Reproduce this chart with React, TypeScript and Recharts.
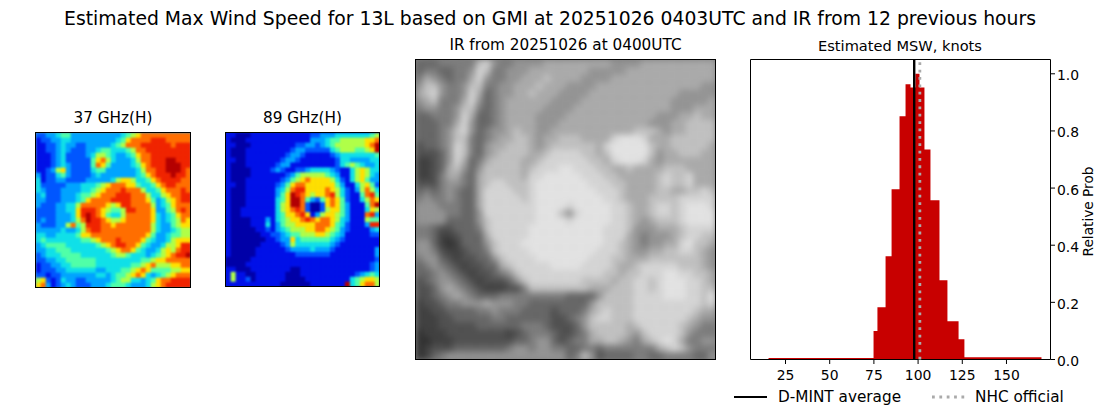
import React from 'react';
import {
  Area,
  ComposedChart,
  Legend,
  ReferenceArea,
  ReferenceLine,
  Scatter,
  ScatterChart,
  XAxis,
  YAxis,
} from 'recharts';

const FONT = '"DejaVu Sans", sans-serif';

// histogram of estimated MSW, bins have uneven widths
const binEdges = [15.4, 74.8, 77, 81.6, 85, 89.5, 92.9, 95.7, 98.5, 100.8, 103.6, 107, 112.1, 116.6, 122.9, 126.2, 169.8];
const binHeights = [0.005, 0.1, 0.183, 0.361, 0.596, 0.851, 0.963, 0.952, 1.0, 0.952, 0.735, 0.557, 0.277, 0.134, 0.071, 0.008];
const xTicks = [25, 50, 75, 100, 125, 150];
const yTicks = [0, 0.2, 0.4, 0.6, 0.8, 1.0];
const dmintAverage = 97.8;
const nhcOfficial = 101;

// brightness levels, one string per row (hex digit per cell)
const ghz37Rows = [
  '2233455333333333345678888888888',
  '1223344333333333457888899988888',
  '1122343322333334568889999998999',
  '1122343222334554445688999999999',
  '1112342222346654334578899999999',
  '1112342222257864333468899 9AA999',
  '1112343222258753333457899 9AAA99',
  '1123673222245533333346889 9AAA98',
  '3122453222234333333345789 99A998',
  '4122332222333334677644578 999988',
  '4222223334445678887754457899888',
  '4322233334456788898886445788898',
  '3422233345567888999888644678899',
  '3322233345788889999888753467899',
  '3222334468888876799888863457888',
  '2222334479998765569988873356898',
  '2222333479A98754468888874345788',
  '2322333468A99876678888874345687',
  '3222336856999887888888864335677',
  '3333343346899888888888864334566',
  '4433444457788888888888753345566',
  '4544444445567888988887543346777',
  '3455554444445678998875433466799',
  '3344555444444456788754334676899',
  '234445555444444566544434567899A',
  '2233445555554444444445567788888',
  '1223344555554444444556786667788',
  '1222334444443344455678755556677',
  '2212233333334434556787434567888',
  '6721243322333334566443457889999',
  '7831234322233345554333467899999',
].map((row) => row.replace(' ', ''));

const ghz89Rows = [
  '1100011111111111122333444444456',
  '1000111111111111133345566666778',
  '110001111111112233234566666678A',
  '100011111111123322222456665567A',
  '1000111111112332111112344444445',
  '1100111111123321111111244333344',
  '1000111111233111111111245654334',
  '1000011112321122344443211467644',
  '1000011111112356666654311467643',
  '1000111111123567877776421467533',
  '1100111111235788777777531146752',
  '1000111111346899777787642136864',
  '1000111111357A98767789642115895',
  '1000111111457AA8532578752114687',
  '1000111111467AA820027875311158A',
  '1001111111467898200267753111476',
  '1001111111457789713677653111893',
  '1000011131456778987887643111655',
  '1000011141356677778887542111399',
  '1000001121345666778876532111134',
  '1000000112234556667765431111122',
  '1000000011233745555554321111111',
  '1000000111123644444443211111111',
  '1000001111112333343332111111113',
  '1000001111111122222221111111113',
  '0000011111111111111111111111112',
  '0000111111111111111111111111123',
  '1100011111111001111111111111123',
  '1611001111110001111111111123454',
  '1611201111110000111111111456776',
  '111111111110000001111111A457886',
];

const irRows = [
  '3334444478544555566666666655556666666666',
  '3443344587445556666666655555666666666666',
  '4654344685445566676666555566666666666666',
  '5775445774455666766655556666666666666655',
  '6785445863455667666555566666666666655555',
  '5674446853456666665555666666666666555556',
  '4554457743456666655556666666666666555666',
  '3344458633456666555566666666666655566766',
  '3334468533456666555666666666666555667777',
  '3334578534556766556666666666677765667777',
  '3334577434566776566777666689998666777777',
  '2334587435667776567777776899999766777776',
  '2223587435677776678888776799999756677766',
  '1123586346777766788888877689998656666666',
  '1123675357777767888998887766766667776666',
  '1124664367777768899999888776666678778666',
  '2224554367887778999999988877666678778666',
  '3434543368888778999999998887666677667787',
  '4544543368888878999999999887666777788888',
  '5554443368888888999989999988766788789998',
  '5555443358888888999758999988766788789999',
  '5555333357888888999989999988765677789999',
  '4432233347888889999999999888755566678888',
  '4431123336888889999999999888654555678877',
  '5531013335788899999999999887654556689776',
  '5542112334788889999999998887655667788765',
  '4553212233578888999999988877666777777765',
  '3454321223367888889999888876678888877765',
  '3345432122345788888888888776778889988776',
  '2345543212223578888888777767788789998876',
  '2235654321112247777777766677788789998877',
  '2234565433344444444433335777788889998879',
  '1223445556555443333333357777788888888878',
  '1122333344544433332333467877788888888766',
  '1112233333443333332234578877788888887655',
  '1112222233333344432223577777678888876544',
  '0111222222221234443223467777657888875444',
  '0011122222222334553234466776546789864455',
  '0122233333334554554433443444444467875444',
  '0134555555555555555534752333344334444335',
];

const jetColors = ['#0000a8', '#0010e8', '#0056ff', '#00a4ff', '#10e0e8', '#50ffa8', '#b0ff48', '#ffe000', '#ff6e00', '#f02400', '#b40000'];
const grayColors = ['#303030', '#404040', '#505050', '#666', '#7c7c7c', '#949494', '#aaa', '#c0c0c0', '#d4d4d4', '#e2e2e2'];

const histData = binEdges.map((x, i) => ({ x, p: binHeights[Math.min(i, binHeights.length - 1)] }));

function toCells(rows: string[]) {
  const cells: { x: number; y: number; v: number }[] = [];
  rows.forEach((row, r) => {
    row.split('').forEach((ch, c) => {
      cells.push({ x: c + 0.5, y: r + 0.5, v: parseInt(ch, 16) });
    });
  });
  return cells;
}

function ImagePanel({ rows, colors, left, top, size, blur, title, titleSize, titleTop, back }: any) {
  const n = rows.length;
  const cell = size / n + 0.6;
  return (
    <>
      <div style={{ position: 'absolute', left: left - 100, width: size + 200, top: titleTop, textAlign: 'center', fontSize: titleSize, fontFamily: FONT, color: '#000' }}>
        {title}
      </div>
      <div style={{ position: 'absolute', left, top, width: size, height: size, overflow: 'hidden', background: back }}>
        <div style={{ filter: `blur(${blur}px)` }}>
          <ScatterChart width={size} height={size} margin={{ top: 0, right: 0, bottom: 0, left: 0 }}>
            <XAxis type="number" dataKey="x" domain={[0, n]} hide />
            <YAxis type="number" dataKey="y" domain={[0, n]} reversed hide />
            <Scatter
              data={toCells(rows)}
              isAnimationActive={false}
              shape={(p: any) => (
                <rect x={p.cx - cell / 2} y={p.cy - cell / 2} width={cell} height={cell} fill={colors[p.payload.v]} />
              )}
            />
          </ScatterChart>
        </div>
      </div>
      <div style={{ position: 'absolute', left: left - 0.5, top: top - 0.5, width: size + 1, height: size + 1, boxSizing: 'border-box', border: '1px solid #000' }} />
    </>
  );
}

function LegendRow() {
  return (
    <div style={{ position: 'relative', width: 366, height: 24, fontFamily: FONT, fontSize: 15.28, color: '#000' }}>
      <svg width={366} height={24} style={{ position: 'absolute', left: 0, top: 0 }}>
        <line x1={0} x2={33} y1={12} y2={12} stroke="#000" strokeWidth={2} />
        <line x1={198} x2={231} y1={12} y2={12} stroke="#aaa" strokeWidth={2.78} strokeDasharray="2.78 4.58" />
      </svg>
      <span style={{ position: 'absolute', left: 44, top: 3 }}>D-MINT average</span>
      <span style={{ position: 'absolute', left: 241, top: 3 }}>NHC official</span>
    </div>
  );
}

export default function App() {
  return (
    <div style={{ position: 'absolute', left: 0, top: 0, width: 1100, height: 409, background: '#fff', overflow: 'hidden' }}>
      <div style={{ position: 'absolute', left: 0, width: 1100, top: 8, textAlign: 'center', fontSize: 18.8, fontFamily: FONT, color: '#000' }}>
        Estimated Max Wind Speed for 13L based on GMI at 20251026 0403UTC and IR from 12 previous hours
      </div>

      <ImagePanel rows={ghz37Rows} colors={jetColors} left={35.5} top={132.5} size={155} blur={1} back="#50a0c0" title="37 GHz(H)" titleSize={15.28} titleTop={109} />
      <ImagePanel rows={ghz89Rows} colors={jetColors} left={225.5} top={132.5} size={154} blur={1} back="#0020d0" title="89 GHz(H)" titleSize={15.28} titleTop={109} />
      <ImagePanel rows={irRows} colors={grayColors} left={415.5} top={59.5} size={300} blur={3} back="#808080" title="IR from 20251026 at 0400UTC" titleSize={15.28} titleTop={36} />

      <div style={{ position: 'absolute', left: 750, width: 300, top: 37, textAlign: 'center', fontSize: 14.6, fontFamily: FONT, color: '#000' }}>
        Estimated MSW, knots
      </div>

      <div style={{ position: 'absolute', left: 700, top: 0 }}>
        <ComposedChart
          width={400}
          height={409}
          data={histData}
          margin={{ top: 59.5, right: 0, bottom: 0, left: 50.5 }}
          style={{ fontFamily: FONT }}
        >
          <XAxis
            type="number"
            dataKey="x"
            domain={[5.2, 174.9]}
            ticks={xTicks}
            allowDataOverflow
            axisLine={false}
            tickLine={{ stroke: '#000' }}
            tickSize={4.5}
            tickMargin={6}
            tick={{ fill: '#000', fontSize: 13.9 }}
            height={49.5}
          />
          <YAxis
            type="number"
            orientation="right"
            domain={[0, 1.05]}
            ticks={yTicks}
            allowDataOverflow
            axisLine={false}
            tickLine={{ stroke: '#000' }}
            tickSize={4.5}
            tick={{ fill: '#000', fontSize: 13.9, dy: 1.5 }}
            tickFormatter={(v: number) => v.toFixed(1)}
            width={49.5}
            label={{ value: 'Relative Prob', angle: -90, position: 'insideRight', dx: -7, dy: -43, fill: '#000', fontSize: 13.7 }}
          />
          <Area type="stepAfter" dataKey="p" baseValue={0} fill="#c80000" fillOpacity={1} stroke="none" dot={false} activeDot={false} isAnimationActive={false} />
          <ReferenceLine x={dmintAverage} stroke="#000" strokeWidth={2.4} />
          <ReferenceLine x={nhcOfficial} stroke="#aaa" strokeWidth={2.78} strokeDasharray="2.78 4.58" />
          <ReferenceArea x1={5.2} x2={174.9} y1={0} y2={1.05} fill="none" stroke="#000" strokeWidth={1} ifOverflow="visible" />
          <Legend verticalAlign="middle" content={<LegendRow />} wrapperStyle={{ position: 'absolute', left: 34, top: 385, width: 366 }} />
        </ComposedChart>
      </div>
    </div>
  );
}
